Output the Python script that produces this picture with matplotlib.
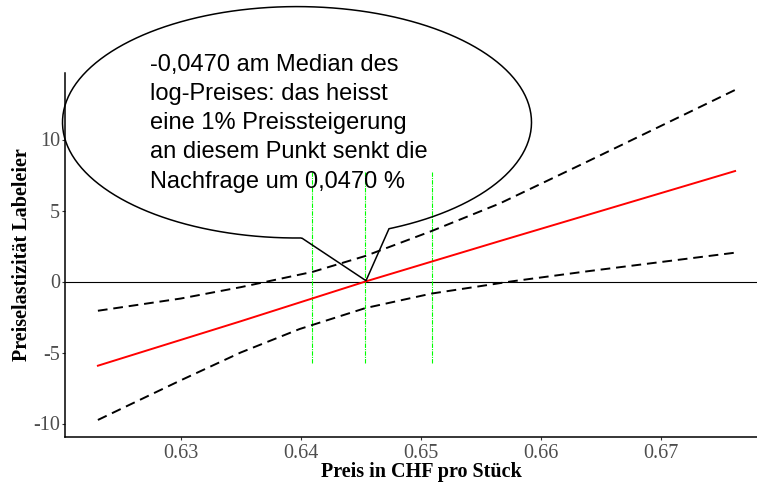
import numpy as np
import matplotlib
matplotlib.use("Agg")
from matplotlib import pyplot as plt
from matplotlib.path import Path
from matplotlib.patches import PathPatch

plt.rcParams['axes.unicode_minus'] = False

#------------------------------------------------------------
# Values
price_fit = [0.6231, 0.6350, 0.6454, 0.6566, 0.6762]
elast_fit = [-5.93, -2.80, 0.0, 2.85, 7.78]

price_up = [0.6231, 0.6300, 0.6350, 0.6410, 0.6454, 0.6509, 0.6566, 0.6639, 0.6762]
elast_up = [-2.06, -1.20, -0.40, 0.68, 1.80, 3.55, 5.50, 8.45, 13.49]

price_lo = [0.6231, 0.6299, 0.6350, 0.6399, 0.6454, 0.6509, 0.6575, 0.6639, 0.6762]
elast_lo = [-9.75, -7.00, -5.00, -3.35, -1.87, -0.85, 0.0, 0.72, 2.03]

# quantiles of the price (green markers) and their vertical extent
price_marks = [0.6409, 0.6454, 0.6509]
mark_lo, mark_hi = -5.74, 7.71

xticks = [0.63, 0.64, 0.65, 0.66, 0.67]
yticks = [-10, -5, 0, 5, 10]

callout = ("-0,0470 am Median des\nlog-Preises: das heisst\n"
           "eine 1% Preissteigerung\nan diesem Punkt senkt die\n"
           "Nachfrage um 0,0470 %")

#------------------------------------------------------------
W, H = 757, 482
fig = plt.figure(figsize=(W / 100, H / 100), dpi=100)
ax = fig.add_axes([65 / W, 1 - 437 / H, 712 / W, 364 / H])

ax.axhline(0, color='k', lw=0.8, zorder=1)
for p in price_marks:
    ax.plot([p, p], [mark_lo, mark_hi], color='#00ff00', lw=0.8,
            ls=(0, (4, 1, 1, 1)), zorder=2)
ax.plot(price_up, elast_up, color='k', lw=1.4, ls=(0, (5, 3)), zorder=3)
ax.plot(price_lo, elast_lo, color='k', lw=1.4, ls=(0, (5, 3)), zorder=3)
ax.plot(price_fit, elast_fit, color='red', lw=1.4, zorder=4)

ax.set_xlim(0.63 + (65 - 180.7) / 12000, 0.63 + (777 - 180.7) / 12000)
ax.set_ylim((281.5 - 437) / 14.2, (281.5 - 73) / 14.2)
ax.set_xticks(xticks)
ax.set_yticks(yticks)
ax.set_xticklabels(['%.2f' % t for t in xticks])
ax.set_yticklabels(['%d' % t for t in yticks])

for s in ['top', 'right']:
    ax.spines[s].set_visible(False)
for s in ['left', 'bottom']:
    ax.spines[s].set_linewidth(1.1)
ax.tick_params(length=2.5, width=0.8, color='#333333', labelcolor='#4d4d4d',
               labelsize=14.5)
ax.tick_params(axis='x', pad=2.5)
ax.tick_params(axis='y', pad=1.2)
for lab in ax.get_xticklabels() + ax.get_yticklabels():
    lab.set_family('Liberation Serif')

ax.set_xlabel('Preis in CHF pro Stück', family='Liberation Serif',
              weight='bold', fontsize=14.5, labelpad=-1)
ax.set_ylabel('Preiselastizität Labeleier', family='Liberation Serif',
              weight='bold', fontsize=14.5, labelpad=0.5)

#------------------------------------------------------------
# Speech bubble (pixel geometry, y down)
cx, cy, a, b = 297, 122.3, 234.5, 115.7
tip = (366, 280.7)
t1 = np.arccos((301.7 - cx) / a)
t2 = np.arccos((389 - cx) / a) + 2 * np.pi
t = np.linspace(t1, t2, 300)
px = np.r_[cx + a * np.cos(t), tip[0], cx + a * np.cos(t1)]
py = np.r_[cy + b * np.sin(t), tip[1], cy + b * np.sin(t1)]
verts = np.column_stack([px / W, 1 - py / H])
bubble = PathPatch(Path(verts), fill=False, ec='k', lw=1.1,
                   transform=fig.transFigure, zorder=5)
fig.add_artist(bubble)

fig.text(150 / W, 1 - 54 / H, callout, family='Liberation Sans',
         fontsize=17, ha='left', va='top', linespacing=1.42, color='k')

fig.savefig('out.png', dpi=100)
